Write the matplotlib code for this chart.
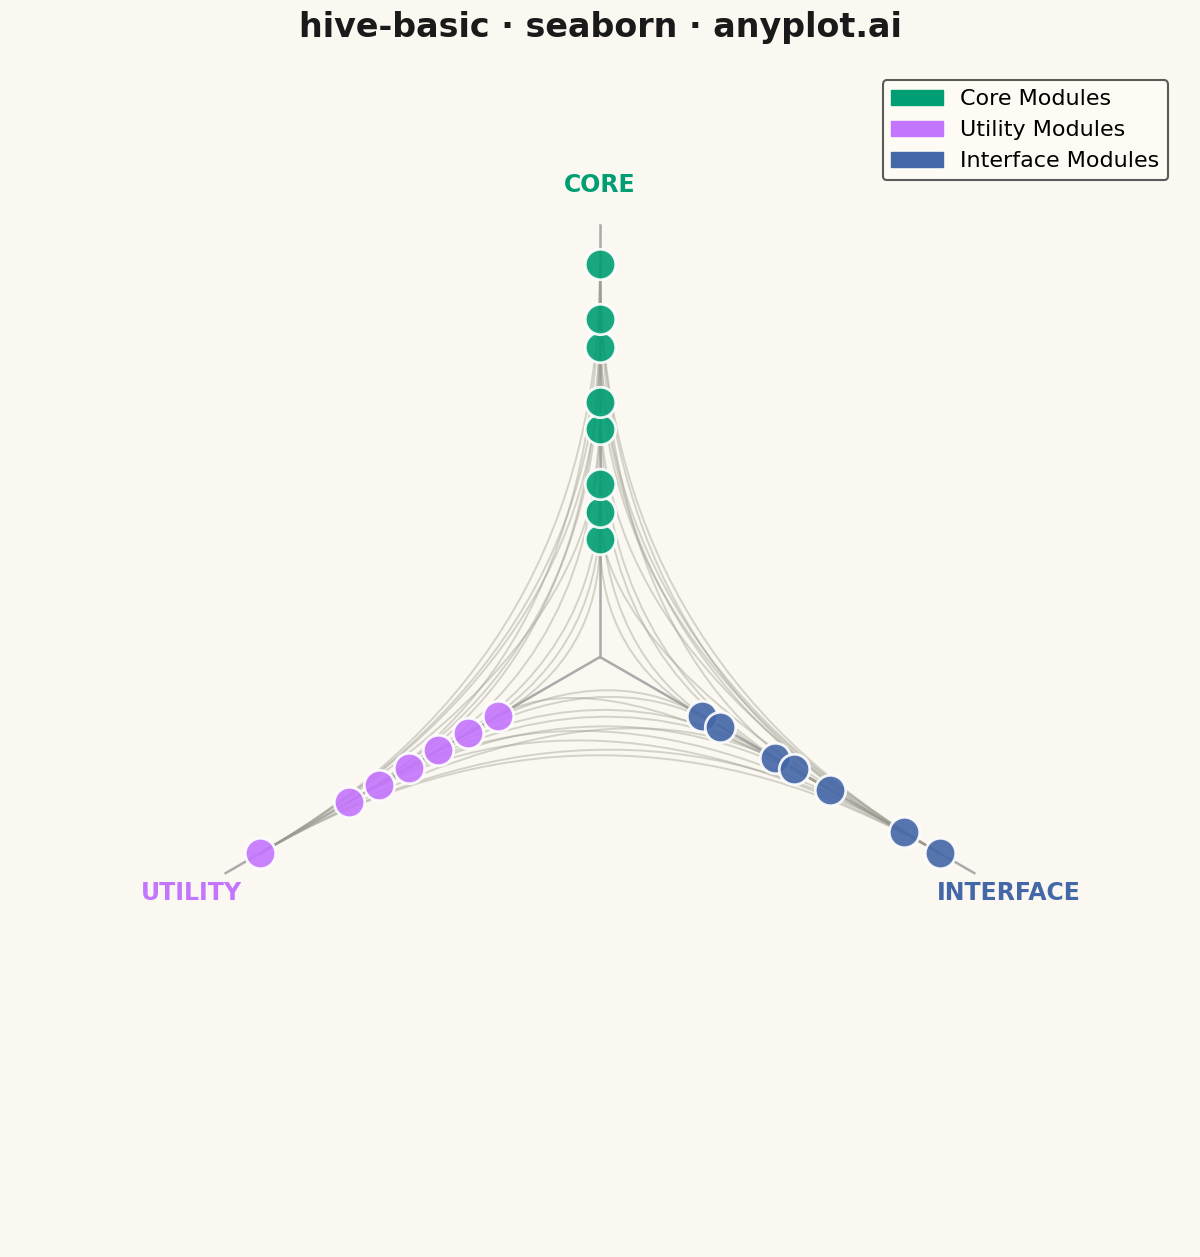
import matplotlib
matplotlib.use("Agg")
import matplotlib.pyplot as plt
import numpy as np
from matplotlib.path import Path
from matplotlib.patches import PathPatch, Patch

# ---- data ----
axis_names = ["CORE", "UTILITY", "INTERFACE"]
axis_angles_deg = [90, 210, 330]
legend_labels = ["Core Modules", "Utility Modules", "Interface Modules"]
core_degree = [2, 3, 4, 6, 7, 9, 10, 12]
utility_degree = [2, 3, 4, 5, 6, 7, 10]
interface_degree = [2, 3, 6, 7, 9, 13, 15]
# edges: (axis_a, node_a, axis_b, node_b)
edges = [
    (0, 7, 2, 6), (0, 7, 2, 5), (0, 7, 1, 6), (0, 7, 1, 5), (0, 7, 2, 4),
    (0, 6, 1, 6), (0, 6, 2, 5), (0, 6, 1, 4), (0, 5, 2, 6), (0, 5, 1, 5),
    (0, 4, 1, 3), (0, 4, 2, 3), (0, 3, 1, 6), (0, 3, 2, 2), (0, 2, 1, 2),
    (0, 2, 2, 1), (0, 1, 1, 1), (0, 0, 2, 0), (0, 0, 1, 0), (0, 1, 2, 5),
    (1, 6, 2, 6), (1, 6, 2, 5), (1, 5, 2, 4), (1, 5, 2, 6), (1, 4, 2, 3),
    (1, 3, 2, 2), (1, 2, 2, 1), (1, 1, 2, 0), (1, 0, 2, 4), (1, 6, 2, 3),
    (1, 4, 2, 5), (0, 6, 2, 6), (0, 5, 1, 6), (0, 4, 2, 6),
]

colors = ["#009E73", "#C475FD", "#4467A8"]
bg = "#FAF8F1"
degrees = [core_degree, utility_degree, interface_degree]

def radius(vals):
    v = np.array(vals, float)
    return 0.3 + 0.7 * (v - v.min()) / (v.max() - v.min())

def pos(a, i):
    r = radius(degrees[a])[i]
    t = np.deg2rad(axis_angles_deg[a])
    return np.array([r * np.cos(t), r * np.sin(t)])

fig = plt.figure(figsize=(12, 12.57), dpi=100, facecolor=bg)
ax = fig.add_axes([0, 0, 1, 1])
ax.set_facecolor(bg)
ax.set_xlim(-1.527, 1.527)
ax.set_ylim(-1.527, 1.672)
ax.axis("off")

for a, ang in enumerate(axis_angles_deg):
    t = np.deg2rad(ang)
    ax.plot([0, 1.1 * np.cos(t)], [0, 1.1 * np.sin(t)], color="#AAAAAA", lw=1.8, zorder=1)
    ax.text(1.2 * np.cos(t), 1.2 * np.sin(t), axis_names[a], color=colors[a],
            fontsize=17, fontweight="bold", ha="center", va="center")

for a1, i1, a2, i2 in edges:
    p1, p2 = pos(a1, i1), pos(a2, i2)
    path = Path([p1, (0, 0), p2], [Path.MOVETO, Path.CURVE3, Path.CURVE3])
    ax.add_patch(PathPatch(path, fc="none", ec="#9A9A8E", lw=1.4, alpha=0.4, zorder=2))

for a in range(3):
    r = radius(degrees[a])
    t = np.deg2rad(axis_angles_deg[a])
    ax.scatter(r * np.cos(t), r * np.sin(t), s=480, color=colors[a], alpha=0.9,
               edgecolors="white", linewidths=2, zorder=3)

handles = [Patch(color=c, label=l) for c, l in zip(colors, legend_labels)]
leg = ax.legend(handles=handles, loc="upper right", bbox_to_anchor=(0.983, 0.945),
                fontsize=16, frameon=True, facecolor="#FFFDF5", edgecolor="#333333",
                handlelength=2.3)
leg.get_frame().set_linewidth(1.5)

fig.text(0.5, 0.978, "hive-basic · seaborn · anyplot.ai", ha="center", va="center",
         fontsize=24, fontweight="bold", color="#1A1A1A")
fig.savefig("out.png", dpi=100, facecolor=bg)
